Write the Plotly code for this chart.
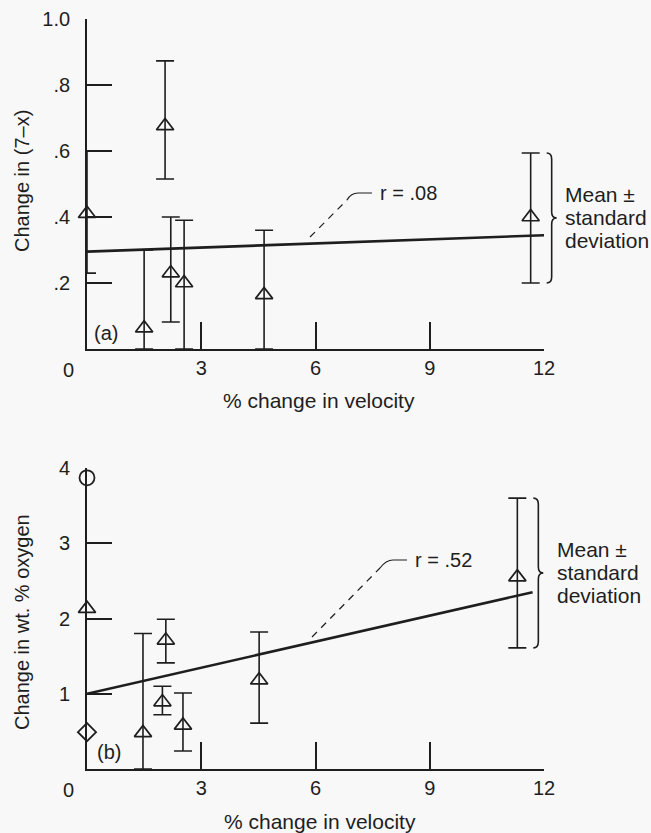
import plotly.graph_objects as go

# ---------------- data ----------------
# panel (a)
a_x = [0.0, 1.5, 2.05, 2.2, 2.55, 4.65, 11.65]
a_y = [0.41, 0.063, 0.676, 0.23, 0.20, 0.164, 0.40]
a_hi = [0.60, 0.30, 0.873, 0.40, 0.39, 0.36, 0.594]
a_lo = [0.23, 0.0, 0.515, 0.082, 0.0, 0.0, 0.20]
a_fit_x = [0.0, 12.07]
a_fit_y = [0.295, 0.345]
a_r = "r = .08"

# panel (b)
b_x = [1.47, 2.07, 1.98, 2.52, 4.52, 11.3]
b_y = [0.48, 1.71, 0.89, 0.58, 1.18, 2.55]
b_hi = [1.80, 1.99, 1.10, 1.01, 1.82, 3.60]
b_lo = [0.0, 1.41, 0.72, 0.24, 0.61, 1.61]
b_axis_x = [0.0, 0.0, 0.0]
b_axis_y = [3.87, 2.13, 0.49]
b_axis_sym = ["circle-open", "triangle-up-open", "diamond-open"]
b_fit_x = [0.0, 11.7]
b_fit_y = [1.0, 2.35]
b_r = "r = .52"

x_ticks = [3, 6, 9, 12]
a_yticks = [0.2, 0.4, 0.6, 0.8, 1.0]
a_yticklabels = [".2", ".4", ".6", ".8", "1.0"]
b_yticks = [1, 2, 3, 4]
b_yticklabels = ["1", "2", "3", "4"]

# ---------------- layout geometry ----------------
W, H = 651, 833
INK = "#1e1e1e"
BG = "#f8f8f8"
FONT = "Liberation Sans, Arial, sans-serif"
FS = 20

x_px0, x_px1 = 87, 544
a_py0, a_py1 = 349, 19      # y=0 and y=1.0 pixel rows
b_py0, b_py1 = 769, 468     # y=0 and y=4 pixel rows

xdom = [x_px0 / W, x_px1 / W]
a_dom = [1 - a_py0 / H, 1 - a_py1 / H]
b_dom = [1 - b_py0 / H, 1 - b_py1 / H]

xs = (x_px1 - x_px0) / 12.0          # px per x unit
a_ys = (a_py0 - a_py1) / 1.0         # px per y unit
b_ys = (b_py0 - b_py1) / 4.0


def PX(x):            # data x -> paper x
    return (x_px0 + x * xs) / W


def PY(y, py0, ys):   # data y -> paper y
    return 1 - (py0 - y * ys) / H


fig = go.Figure()


def err_trace(x, y, hi, lo, xa, ya, sym="triangle-up-open"):
    return go.Scatter(
        x=x, y=y, xaxis=xa, yaxis=ya, mode="markers",
        marker=dict(symbol=sym, size=15, color=INK, opacity=1,
                    line=dict(color=INK, width=1.7)),
        error_y=dict(type="data", symmetric=False,
                     array=[h - m for h, m in zip(hi, y)],
                     arrayminus=[m - l for m, l in zip(y, lo)],
                     color=INK, thickness=1.6, width=9),
        cliponaxis=False, showlegend=False, hoverinfo="x+y")


fig.add_trace(err_trace(a_x, a_y, a_hi, a_lo, "x", "y"))
fig.add_trace(go.Scatter(x=a_fit_x, y=a_fit_y, xaxis="x", yaxis="y", mode="lines",
                         line=dict(color=INK, width=2.6), cliponaxis=False, showlegend=False))

fig.add_trace(err_trace(b_x, b_y, b_hi, b_lo, "x2", "y2"))
for xv, yv, sv in zip(b_axis_x, b_axis_y, b_axis_sym):
    fig.add_trace(go.Scatter(x=[xv], y=[yv], xaxis="x2", yaxis="y2", mode="markers",
                             marker=dict(symbol=sv, size=15 if "diamond" not in sv else 14,
                                         color=INK, opacity=1,
                                         line=dict(color=INK, width=1.8)),
                             cliponaxis=False, showlegend=False))
fig.add_trace(go.Scatter(x=b_fit_x, y=b_fit_y, xaxis="x2", yaxis="y2", mode="lines",
                         line=dict(color=INK, width=2.6), cliponaxis=False, showlegend=False))

shapes = []
annotations = []


def txt(x, y, text, size=FS, xanchor="center", angle=0):
    annotations.append(dict(x=x, y=y, xref="paper", yref="paper", text=text,
                            showarrow=False, xanchor=xanchor, yanchor="middle",
                            textangle=angle,
                            font=dict(size=size, color=INK, family=FONT)))


def brace(xe, lo, hi, py0, ys):
    """right-pointing curly brace beside an error bar, in paper coords"""
    L = PX(xe) + 16 / W
    M = PX(xe) + 21 / W
    T = PX(xe) + 26 / W
    r = 6 / H
    top, bot = PY(hi, py0, ys), PY(lo, py0, ys)
    mid = (top + bot) / 2
    p = (f"M{L},{top} Q{M},{top} {M},{top - r} L{M},{mid + r} Q{M},{mid} {T},{mid} "
         f"Q{M},{mid} {M},{mid - r} L{M},{bot + r} Q{M},{bot} {L},{bot}")
    shapes.append(dict(type="path", path=p, xref="paper", yref="paper",
                       line=dict(color=INK, width=1.6)))
    return mid


def leader(pts, text):
    """pts given in pixel positions -> paper"""
    P = [(px / W, 1 - py / H) for px, py in pts]
    (x0, y0), (x1, y1), (x2, y2), (x3, y3) = P
    shapes.append(dict(type="line", x0=x0, y0=y0, x1=x1, y1=y1, xref="paper", yref="paper",
                       line=dict(color=INK, width=1.2, dash="7px,6px")))
    shapes.append(dict(type="path", xref="paper", yref="paper",
                       path=f"M{x1},{y1} Q{x2 - 2 / W},{y2} {x2 + 5 / W},{y2} L{x3},{y3}",
                       line=dict(color=INK, width=1.2)))
    txt(x3 + 6 / W, y3, text, xanchor="left")


# panel (a) annotations
leader([(310, 237), (347, 200), (353, 193), (372, 193)], a_r)
mid_a = brace(a_x[-1], a_lo[-1], a_hi[-1], a_py0, a_ys)
for i, t in enumerate(["Mean ±", "standard", "deviation"]):
    txt(563 / W, mid_a + (1 - i) * 23 / H, t, size=21, xanchor="left")
txt(92 / W, 1 - 333 / H, "(a)", xanchor="left")

# panel (b) annotations
leader([(312, 637), (380, 568), (388, 560), (407, 560)], b_r)
mid_b = brace(b_x[-1], b_lo[-1], b_hi[-1], b_py0, b_ys)
for i, t in enumerate(["Mean ±", "standard", "deviation"]):
    txt(555 / W, mid_b + (1 - i) * 23 / H, t, size=21, xanchor="left")
txt(95 / W, 1 - 752 / H, "(b)", xanchor="left")

# corner "0" labels
txt(68 / W, 1 - 370 / H, "0")
txt(68 / W, 1 - 790 / H, "0")

# axis titles
txt(319 / W, 1 - 400 / H, "% change in velocity", size=21)
txt(320 / W, 1 - 821 / H, "% change in velocity", size=21)
txt(22 / W, 1 - 181 / H, "Change in (7–x)", angle=-90)
txt(22 / W, 1 - 622 / H, "Change in wt. % oxygen", angle=-90)

xaxis_common = dict(range=[0, 12], tickvals=x_ticks, ticktext=[str(v) for v in x_ticks],
                    ticks="inside", ticklen=27, tickwidth=1.6, tickcolor=INK,
                    showline=True, linecolor=INK, linewidth=1.8, showgrid=False,
                    zeroline=False, ticklabelstandoff=0, automargin=False,
                    tickfont=dict(size=FS, color=INK, family=FONT), fixedrange=True)
yaxis_common = dict(ticks="inside", ticklen=25, tickwidth=1.6, tickcolor=INK,
                    showline=True, linecolor=INK, linewidth=1.8, showgrid=False,
                    zeroline=False, ticklabelstandoff=11, automargin=False,
                    tickfont=dict(size=FS, color=INK, family=FONT), fixedrange=True)

fig.update_layout(
    template="none",
    width=W, height=H, margin=dict(l=0, r=0, t=0, b=0, pad=0, autoexpand=False),
    paper_bgcolor=BG, plot_bgcolor=BG,
    font=dict(family=FONT, color=INK, size=FS),
    xaxis=dict(domain=xdom, anchor="y", **xaxis_common),
    yaxis=dict(domain=a_dom, anchor="x", range=[0, 1.0], tickvals=a_yticks,
               ticktext=a_yticklabels, **yaxis_common),
    xaxis2=dict(domain=xdom, anchor="y2", **xaxis_common),
    yaxis2=dict(domain=b_dom, anchor="x2", range=[0, 4], tickvals=b_yticks,
                ticktext=b_yticklabels, **yaxis_common),
    shapes=shapes, annotations=annotations, showlegend=False,
)

fig.write_html("out.html")
